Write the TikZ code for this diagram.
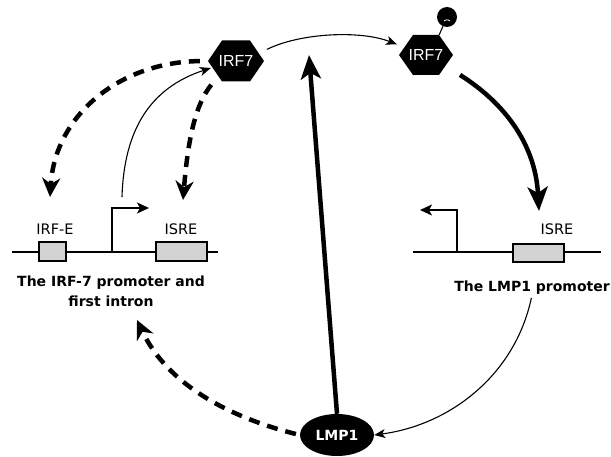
\documentclass[tikz,border=0pt]{standalone}
\usepackage{fontspec}
\setmainfont{DejaVu Sans}
\newfontfamily\arialf{Liberation Sans}
\usetikzlibrary{arrows.meta,shapes.geometric,calc}
\begin{document}
\begin{tikzpicture}[x=1pt,y=-1pt,
  hexa/.style={minimum width=56pt,minimum height=41pt,inner sep=0pt,text=white,
    font=\arialf\fontsize{16}{18}\selectfont,
    path picture={\fill[black] (path picture bounding box.west)
      -- ([xshift=14pt]path picture bounding box.north west)
      -- ([xshift=-14pt]path picture bounding box.north east)
      -- (path picture bounding box.east)
      -- ([xshift=-14pt]path picture bounding box.south east)
      -- ([xshift=14pt]path picture bounding box.south west) -- cycle;}},
  lab/.style={font=\fontsize{14.5}{16}\selectfont,inner sep=0pt},
  btitle/.style={font=\bfseries\fontsize{14}{20}\selectfont,align=center,inner sep=0pt},
  genebox/.style={draw,fill=gray!35,line width=1.3pt,inner sep=0pt},
  geneline/.style={line width=1.5pt},
  prom/.style={line width=1.5pt,-{Stealth[length=12pt,width=11pt,inset=3pt]}},
  thinarrow/.style={line width=1.1pt,-{Stealth[length=11pt,width=9pt,inset=3pt]}},
  dasharrow/.style={line width=4.5pt,dash pattern=on 11pt off 8pt,-{Stealth[length=19pt,width=18pt,inset=6pt]}},
  heavyarrow/.style={line width=4.5pt,-{Stealth[length=24pt,width=20pt,inset=6pt]}}
]
\useasboundingbox (0,0) rectangle (611,457);

% proteins
\node[hexa] (irfA) at (236,61) {IRF7};
\node[hexa,minimum width=54pt,minimum height=40pt] (irfB) at (426,55) {IRF7};
\node[circle,fill=black,minimum size=20pt,inner sep=0pt] (phos) at (447,17) {};
\draw[line width=1.1pt] (irfB.north east) ++(-14pt,0) coordinate (phb) -- (phos);
\draw[white,line width=0.8pt] ($(phos.center)+(-3pt,-4pt)$) .. controls +(1pt,1.5pt) and +(-1pt,1.5pt) .. ($(phos.center)+(3pt,-4pt)$);
\node[ellipse,fill=black,minimum width=74pt,minimum height=42pt,inner sep=0pt,text=white,
  font=\bfseries\fontsize{14}{16}\selectfont] (lmp) at (337,435) {LMP1};

% left gene
\coordinate (gl1) at (12,252);
\coordinate (gl2) at (218,252);
\draw[geneline] (gl1) -- (gl2);
\node[genebox,minimum width=27pt,minimum height=19pt] (bIRFE) at (52.5,251.5) {};
\node[genebox,minimum width=51pt,minimum height=19pt] (bISREa) at (181.5,251.5) {};
\coordinate (lp0) at (112,252);
\coordinate (lp1) at (112,208);
\coordinate (lp2) at (149,208);
\draw[prom] (lp0) -- (lp1) -- (lp2);
\node[lab] (tIRFE) at (55,229) {IRF-E};
\node[lab] (tISREa) at (181,229) {ISRE};
\node[btitle] (tIRF) at (111,291) {The IRF-7 promoter and\\first intron};

% right gene
\coordinate (gr1) at (413,252);
\coordinate (gr2) at (601,252);
\draw[geneline] (gr1) -- (gr2);
\node[genebox,minimum width=51pt,minimum height=18pt] (bISREb) at (538.5,253) {};
\coordinate (rp0) at (457,252);
\coordinate (rp1) at (457,210);
\coordinate (rp2) at (420,210);
\draw[prom] (rp0) -- (rp1) -- (rp2);
\node[lab] (tISREb) at (557,229) {ISRE};
\node[btitle] (tLMP) at (532,288) {The LMP1 promoter};

% free ends
\coordinate (tipE) at (50,197);
\coordinate (tipI) at (183,200);
\coordinate (proS) at (122,197);
\coordinate (tipB) at (137,320);
\coordinate (tipR) at (539,211);
\coordinate (tipU) at (309,55);

% connectors
\draw[thinarrow,shorten <=3pt,shorten >=2pt] (irfA.20) .. controls (300,33) and (360,30) .. (irfB.160);
\draw[dasharrow,shorten <=8pt] (irfA.west) .. controls (120,62) and (55,115) .. (tipE);
\draw[thinarrow] (proS) .. controls (124,130) and (150,88) .. ([shift={(3pt,-7pt)}]irfA.west);
\draw[dasharrow,shorten <=4pt] (irfA.south west) ++(6pt,0) .. controls (195,105) and (188,140) .. (tipI);
\draw[heavyarrow,shorten <=8pt] (irfB.-30) .. controls (500,100) and (535,140) .. (tipR);
\draw[heavyarrow] (lmp.north) -- (tipU);
\draw[thinarrow,shorten <=3pt] (tLMP.south) .. controls (515,375) and (450,425) .. (lmp.east);
\draw[dasharrow,shorten <=4pt] (lmp.west) .. controls (240,420) and (170,390) .. (tipB);
\end{tikzpicture}
\end{document}
